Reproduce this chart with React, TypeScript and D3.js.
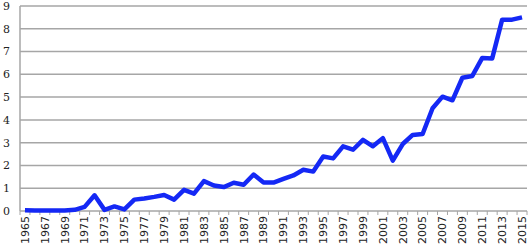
import React, { useEffect, useRef } from "react";
import { select, scaleBand, scaleLinear, line, range } from "d3";

const years = range(1965, 2016).map(String);
const values = [
  0.03, 0.02, 0.02, 0.02, 0.02, 0.05, 0.18, 0.69, 0.05, 0.2,
  0.07, 0.5, 0.55, 0.62, 0.7, 0.5, 0.93, 0.76, 1.31, 1.12,
  1.05, 1.24, 1.15, 1.6, 1.25, 1.25, 1.41, 1.56, 1.81, 1.73,
  2.39, 2.31, 2.84, 2.69, 3.12, 2.84, 3.2, 2.21, 2.94, 3.34,
  3.38, 4.51, 5.02, 4.86, 5.85, 5.93, 6.72, 6.7, 8.4, 8.4,
  8.5
];
const yTicks = [0, 1, 2, 3, 4, 5, 6, 7, 8, 9];

const W = 529;
const H = 247;
const margin = { top: 6, right: 2, bottom: 36, left: 20 };

export default function App() {
  const svgRef = useRef<SVGSVGElement>(null);

  useEffect(() => {
    const svg = select(svgRef.current);
    svg.selectAll("*").remove();

    const x = scaleBand()
      .domain(years)
      .range([margin.left, W - margin.right]);
    const y = scaleLinear()
      .domain([0, 9])
      .range([H - margin.bottom, margin.top]);

    // gridlines
    svg
      .append("g")
      .selectAll("line")
      .data(yTicks.filter((t) => t > 0))
      .join("line")
      .attr("x1", margin.left)
      .attr("x2", W - margin.right)
      .attr("y1", (d) => y(d))
      .attr("y2", (d) => y(d))
      .attr("stroke", "#a6a6a6")
      .attr("stroke-width", 1.5);

    // y labels
    svg
      .append("g")
      .selectAll("text")
      .data(yTicks)
      .join("text")
      .attr("x", 10)
      .attr("y", (d) => y(d))
      .attr("dy", "0.35em")
      .attr("text-anchor", "end")
      .attr("font-family", "DejaVu Serif")
      .attr("font-size", 11)
      .attr("fill", "#222")
      .text((d) => d);

    // axes
    svg
      .append("line")
      .attr("x1", margin.left)
      .attr("x2", margin.left)
      .attr("y1", y(9))
      .attr("y2", y(0))
      .attr("stroke", "#a6a6a6")
      .attr("stroke-width", 1.5);
    svg
      .append("line")
      .attr("x1", margin.left)
      .attr("x2", W - margin.right)
      .attr("y1", y(0))
      .attr("y2", y(0))
      .attr("stroke", "#a6a6a6")
      .attr("stroke-width", 1.5);

    // category tick marks
    svg
      .append("g")
      .selectAll("line")
      .data(years.concat(["end"]))
      .join("line")
      .attr("x1", (d, i) => margin.left + i * x.step())
      .attr("x2", (d, i) => margin.left + i * x.step())
      .attr("y1", y(0))
      .attr("y2", y(0) + 4)
      .attr("stroke", "#a6a6a6")
      .attr("stroke-width", 1);

    // x labels every other year
    svg
      .append("g")
      .selectAll("text")
      .data(years.filter((d, i) => i % 2 === 0))
      .join("text")
      .attr(
        "transform",
        (d) =>
          `translate(${x(d)! + x.bandwidth() / 2},${y(0) + 5}) rotate(-90)`
      )
      .attr("dy", "0.35em")
      .attr("text-anchor", "end")
      .attr("font-family", "DejaVu Sans")
      .attr("font-size", 11)
      .attr("fill", "#222")
      .text((d) => d);

    const lineGen = line<number>()
      .x((d, i) => x(years[i])! + x.bandwidth() / 2)
      .y((d) => y(d));

    svg
      .append("path")
      .datum(values)
      .attr("d", lineGen)
      .attr("fill", "none")
      .attr("stroke", "#1428f5")
      .attr("stroke-width", 4.5)
      .attr("stroke-linejoin", "round");
  }, []);

  return (
    <svg
      ref={svgRef}
      width={W}
      height={H}
      style={{ position: "absolute", left: 0, top: 0, background: "#fff" }}
    />
  );
}
